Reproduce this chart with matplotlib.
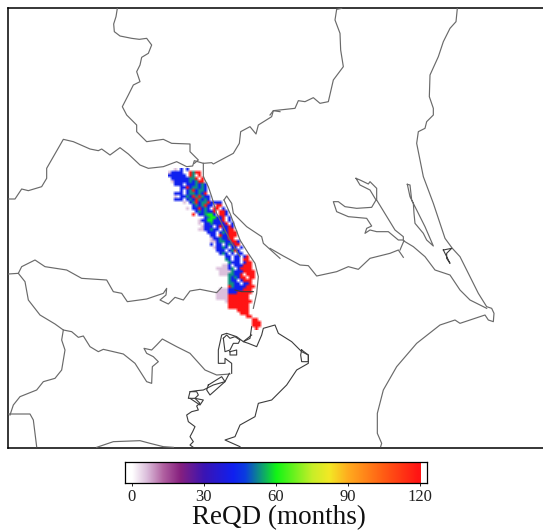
import numpy as np
import matplotlib
matplotlib.use("Agg")
import matplotlib.pyplot as plt
from matplotlib.colors import LinearSegmentedColormap

W, H = 543, 532

# map outlines (x, y in 1/3 pixel, with the offset of the crop)
border_north = [(352,25),(348,50),(341,72),(343,95),(360,108),(395,115),(418,118),(440,115),(455,135),(445,160),(425,172),(420,195),(410,215),(420,245),(400,255),(385,285),(367,320),(380,345),(410,375),(410,395),(425,410),(440,425),(490,418),(515,430),(570,432),(570,455),(595,480),(583,490)]
border_gunma = [(25,597),(45,597),(65,567),(85,572),(125,560),(140,535),(140,505),(190,418),(220,425),(270,447),(295,452),(305,447),(330,465),(360,443),(385,462),(420,495),(445,505),(490,500),(530,485),(560,500),(578,498),(583,482),(610,490),(635,488),(640,492),(700,460),(718,430),(722,395),(750,380),(768,402),(775,375),(815,350),(820,332),(840,335)]
border_tochigi = [(0,345),(10,332),(75,325),(85,302),(105,305),(130,293),(150,310),(175,305),(190,240),(220,200),(212,150),(210,100),(195,60),(200,28),(215,25)]
border_strip = [(610,490),(610,530),(625,560),(635,590),(650,640),(665,670),(690,720),(720,770)]
river_a = [(672,600),(680,588),(695,610),(700,640),(740,680),(785,710),(790,730),(840,775)]
river_a2 = [(672,600),(690,640),(705,680),(720,720),(745,760),(765,790),(775,830),(770,880),(760,925)]
river_b = [(0,745),(40,768),(90,795),(115,797),(140,828),(200,815),(235,800),(265,808),(300,775),(360,760),(385,750),(400,772)]
tokyo_north = [(25,72),(55,70),(65,50),(105,30),(135,50),(200,60),(245,85),(320,90),(340,125),(365,130),(382,155),(440,147),(490,130),(500,115),(498,135),(480,150),(505,162),(525,142),(550,150),(570,123),(600,118),(650,128),(665,112)]
tokyo_inner = [(705,120),(725,125),(760,125)]
tokyo_south = [(55,70),(75,95),(85,150),(120,195),(165,222),(190,240),(215,245),(235,262),(250,258),(270,290),(295,305),(310,298),(370,312),(405,340),(440,395),(455,400),(457,350),(475,335),(460,320),(440,310),(432,295),(455,300),(470,285),(487,267),(530,290),(570,310),(615,360),(650,375),(690,372)]
kanagawa = [(190,240),(185,270),(195,300),(185,360),(165,385),(130,395),(110,420),(60,440),(40,465),(30,495)]
shizuoka = [(25,492),(90,492),(100,510),(105,550),(110,590)]
miura = [(290,592),(340,575),(420,572),(450,580),(490,590),(520,592)]
ibaraki_coast = [(562,25),(558,65),(540,85),(520,125),(505,170),(480,225),(478,290),(490,325),(490,345),(470,365),(465,385),(445,395),(440,430),(460,530),(490,610),(525,715),(547,745),(570,770),(590,810),(625,880),(650,920),(665,925),(672,940),(670,965),(655,960),(645,945),(600,960),(570,970),(555,960),(510,975),(440,1030),(380,1100),(340,1170),(322,1240),(322,1300),(335,1330),(332,1340)]
kasumigaura = [(258,535),(270,540),(295,552),(300,545),(320,565),(320,600),(375,690),(400,710),(400,720),(385,720),(355,695),(320,695),(300,690),(285,700),(290,685),(305,678),(290,655),(235,650),(200,635),(190,605),(205,605),(225,620),(260,625),(305,622),(318,600),(300,570),(270,555),(258,535)]
kitaura = [(412,553),(420,555),(425,600),(445,640),(465,680),(490,738),(470,720),(460,700),(435,670),(432,640),(430,610),(420,590),(412,553)]
tone = [(400,722),(430,740),(465,770),(495,810),(540,825),(570,870),(600,900),(650,925)]
tone_link = [(402,722),(390,750)]
sotonasa = [(520,750),(545,745),(530,760),(530,775),(540,790),(525,760),(520,750)]
bay_west = [(148,160),(135,185),(100,195),(70,210),(50,212),(30,215),(25,235),(45,235),(60,250),(50,258),(55,270),(35,275),(20,285),(25,305),(45,320),(38,335),(30,350),(40,365),(30,375),(40,382)]
bay_west_dock = [(30,215),(50,215),(55,225),(45,235),(70,240),(60,255),(45,245),(30,235)]
bay_island = [(85,195),(125,170),(135,185),(90,225),(80,210),(85,195)]
bay_north = [(215,20),(210,55),(190,65),(205,70),(230,80),(245,45),(250,25),(285,15),(295,40),(335,65),(365,95),(385,105),(385,130),(350,150),(320,195),(275,240),(235,250),(225,290),(180,315),(165,350),(135,360),(180,380)]
bay_harbour = [(215,45),(190,65),(170,50),(140,40),(125,45),(115,90),(115,130),(135,130),(135,115),(155,130),(155,160)]
bay_dock_a = [(130,55),(140,45),(150,55),(165,50),(180,60),(175,70),(160,70),(150,90),(135,95),(130,55)]
bay_dock_b = [(150,95),(170,90),(170,105),(150,105),(150,95)]
bay_dock_c = [(365,90),(385,105),(385,125),(365,125),(362,105),(365,90)]

gray_lines = [(border_north,0,0),(border_gunma,0,0),(border_tochigi,810,0),(border_strip,0,0),
              (river_a,0,0),(river_a2,0,0),(river_b,810,0),(tokyo_north,0,750),(tokyo_south,0,750),
              (kanagawa,0,750),(shizuoka,0,750),(miura,0,750),(ibaraki_coast,810,0),
              (kasumigaura,810,0),(tone,810,0),(tone_link,810,0),(kitaura,810,0)]
dark_lines = [(tokyo_inner,0,750),(sotonasa,810,0),(bay_west,540,960),(bay_west_dock,540,960),(bay_island,540,960),
              (bay_north,540,960),(bay_harbour,540,960),(bay_dock_a,540,960),(bay_dock_b,540,960),(bay_dock_c,540,960)]

# ReQD cells: first row y, row step and cell size are in pixels, codes give months
cell = 3
first_row = 168
code_months = {"L": 6, "B": 42, "T": 53, "G": 60, "R": 120}
row_x = [175,168,170,172,173,174,177,178,175,175,175,183,187,188,190,193,198,200,198,202,200,208,212,212,210,212,213,213,220,225,227,228,222,218,220,220,225,230,230,229,220,218,218,218,225,230,230,238,240,248,252,253,253,255]
row_codes = [
    "L.B.B",
    "LBBBB..RTRR",
    "BBBBBB.RT.R",
    "BBBBBBTTR.R",
    "LBBBBBTBTRR",
    "BBB.BBBTBTB",
    ".BBRBTTBTB",
    ".B.BTRBTTB",
    "BBB.BTTBTBR",
    "L.BBTBRTRTBB",
    "BBB.BTBRTBTB",
    "L.BTRBTTRBBBB",
    "..BTBTRBB.RR.",
    "L.BBRBTB.RR.B",
    "..BTBTBBR.RRB",
    "R.BBTGGB.RRB",
    "..BTGGBBR.B",
    "LBBGGBBBR.B",
    "L.BBTBBBBR.B",
    "LBBB.BRBBRB",
    "LLBBTBB.BBRR",
    "BBB.BTBRRR",
    "BB.RBBRRR",
    "LBBTBBRR.",
    "LLBTTBBRRB",
    "B.BB.BTBRR",
    "LBBTB.BB.B",
    ".BBB.BTRB.",
    "BTB.B.BB.",
    "BB.BB.BR",
    "TB.BB.RR",
    "TBBB.BRR",
    "LLB.BBBRRR",
    "LLLLBT.BRRRR",
    "LLLLTBBBRRRR",
    "LLLTTBBR.RRR",
    ".TBTBRR.RR",
    "TBB.BRRR",
    "TTBB.BBR",
    "RTBBBBRRR",
    "LLLBBBBBRRR",
    "LLLLBBBRRRRR",
    "LLLLRRRRRRR",
    "LLLLRRRRRRR",
    "LRRRRRRRR",
    "RRRRRRR",
    "RRRRRRR",
    "RRRR",
    "RRR",
    "RR",
    "RR",
    "RRR",
    "RRR",
    "R",
]

# colorbar
cbar_stops = [0, 6, 13, 20, 30, 42, 47, 60, 75, 82, 90, 105, 119, 120]
cbar_colors = ["#ffffff", "#dcbfdc", "#b060a0", "#86207f", "#3a14b4", "#1020f0", "#0a3ce0", "#12f515", "#c8ee28", "#f3e825", "#ffaa1e", "#ff5a14", "#ff1414", "#ff1414"]
cbar_ticks = [0, 30, 60, 90, 120]
cmap = LinearSegmentedColormap.from_list("reqd", [(s / 120, c) for s, c in zip(cbar_stops, cbar_colors)], N=512)
cmap.set_bad((1, 1, 1, 1))

fig = plt.figure(figsize=(W / 100, H / 100), dpi=100, facecolor="white")
plt.rcParams["font.family"] = ["Liberation Serif"]

# map axes, data are picture pixels
ax = fig.add_axes([8 / W, 1 - 448 / H, (W + 2 - 8) / W, 440 / H])
ax.set_xticks([])
ax.set_yticks([])
for s in ax.spines.values():
    s.set_linewidth(1.1)

x0 = min(row_x)
n_cols = max(len(c) + (x - x0) // cell + 1 for x, c in zip(row_x, row_codes))
grid = np.full((len(row_codes), n_cols), np.nan)
for r, (x, codes) in enumerate(zip(row_x, row_codes)):
    start = (x - x0) // cell
    for i, c in enumerate(codes):
        if c in code_months:
            grid[r, start + i] = code_months[c]
ax.imshow(np.ma.masked_invalid(grid), cmap=cmap, vmin=0, vmax=120,
          extent=[x0, x0 + n_cols * cell, first_row + len(row_codes) * cell, first_row],
          interpolation="bilinear", interpolation_stage="rgba", aspect="auto", zorder=2)
ax.set_xlim(8, W + 2)
ax.set_ylim(448, 8)

for pts, dx, dy in gray_lines:
    a = np.array(pts, dtype=float)
    ax.plot((a[:, 0] + dx) / 3, (a[:, 1] + dy) / 3, color="#6a6a6a", lw=0.85, zorder=3)
for pts, dx, dy in dark_lines:
    a = np.array(pts, dtype=float)
    ax.plot((a[:, 0] + dx) / 3, (a[:, 1] + dy) / 3, color="#3c3c3c", lw=0.8, zorder=3)

# colorbar axes: 0 sits at 131.7 px and 120 at 420 px
cax = fig.add_axes([125 / W, 1 - 483 / H, 302 / W, 21.5 / H])
per_month = (420 - 131.7) / 120
lo = -(131.7 - 125) / per_month
hi = 120 + (427 - 420) / per_month
vals = np.linspace(0, 120, 512)
cax.imshow(vals[None, :], cmap=cmap, vmin=0, vmax=120, extent=[0, 120, 0, 1], aspect="auto")
cax.set_xlim(lo, hi)
cax.set_ylim(0, 1)
cax.set_yticks([])
cax.set_xticks(cbar_ticks)
cax.tick_params(axis="x", length=2, width=0.6, pad=2, labelsize=12, labelcolor="#222222")
for s in cax.spines.values():
    s.set_linewidth(0.9)

fig.text(279 / W, 1 - 518 / H, "ReQD (months)", ha="center", va="center", fontsize=19.5, color="#111111")

fig.savefig("out.png", dpi=100)
